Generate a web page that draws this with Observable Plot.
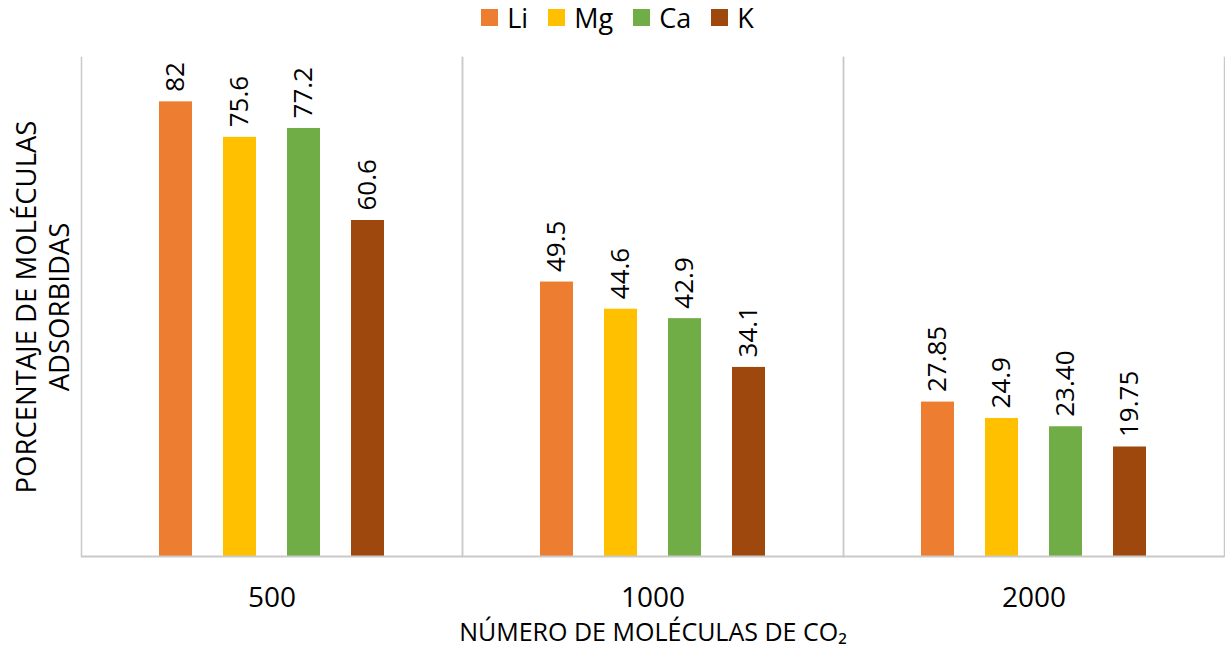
<!DOCTYPE html>
<html>
<head>
<meta charset="utf-8">
<script src="https://cdn.jsdelivr.net/npm/d3@7"></script>
<script src="https://cdn.jsdelivr.net/npm/@observablehq/plot@0.6"></script>
<style>
  html, body { margin: 0; padding: 0; background: #fff; }
  body { width: 1225px; height: 659px; overflow: hidden; font-family: "Open Sans", sans-serif; }
  #legend { height: 34px; display: flex; justify-content: center; align-items: center; padding-left: 10px; box-sizing: border-box; font-size: 27px; color: #000; }
  #legend .item { display: flex; align-items: center; margin: 0 10px; }
  #legend .sw { width: 17px; height: 17px; margin-right: 9px; }
</style>
</head>
<body>
<div id="legend"></div>
<div id="chart"></div>
<script>
// Number of CO2 molecules in the simulation box
const groups = ["500", "1000", "2000"];
// Cations
const elements = ["Li", "Mg", "Ca", "K"];
const colors = ["#ED7D31", "#FFC000", "#70AD47", "#9E480E"];
// Percentage of adsorbed molecules, written as printed on each bar
const liValues = ["82", "49.5", "27.85"];
const mgValues = ["75.6", "44.6", "24.9"];
const caValues = ["77.2", "42.9", "23.40"];
const kValues  = ["60.6", "34.1", "19.75"];

const yTitle = "PORCENTAJE DE MOLÉCULAS\nADSORBIDAS";
const xTitle = "NÚMERO DE MOLÉCULAS DE CO₂";

const series = [liValues, mgValues, caValues, kValues];
const rows = [];
groups.forEach((g, i) => {
  elements.forEach((e, j) => {
    rows.push({group: g, element: e, label: series[j][i], value: +series[j][i]});
  });
});

// legend
const legend = document.getElementById("legend");
elements.forEach((e, j) => {
  const item = document.createElement("div");
  item.className = "item";
  const sw = document.createElement("div");
  sw.className = "sw";
  sw.style.background = colors[j];
  const t = document.createElement("span");
  t.textContent = e;
  item.append(sw, t);
  legend.append(item);
});

const grid = "#c9c9c9";

const chart = Plot.plot({
  width: 1225,
  height: 625,
  marginTop: 23,
  marginBottom: 103,
  marginLeft: 81,
  marginRight: 1,
  style: {fontFamily: "Open Sans, sans-serif", color: "#000", background: "#fff"},
  fx: {domain: groups, padding: 0},
  x: {domain: elements, paddingInner: 0.477, paddingOuter: 1.175, axis: null},
  y: {domain: [0, 90], axis: null},
  color: {domain: elements, range: colors},
  marks: [
    Plot.frame({anchor: "left", stroke: grid, strokeWidth: 1.5}),
    Plot.frame({anchor: "right", stroke: grid, strokeWidth: 1.5}),
    Plot.barY(rows, {fx: "group", x: "element", y: "value", fill: "element"}),
    Plot.ruleY([0], {stroke: grid, strokeWidth: 2}),
    // value labels, rotated above each bar
    Plot.text(rows, {
      fx: "group", x: "element", y: "value", text: "label",
      rotate: -90, textAnchor: "start", lineAnchor: "middle",
      dy: -10, fontSize: 26, fill: "#000"
    }),
    // y title, drawn once beside the first group
    Plot.text([yTitle], {
      fx: () => groups[0], frameAnchor: "left", text: d => d,
      rotate: -90, textAnchor: "middle", lineAnchor: "middle",
      lineHeight: 1.2, dx: -40, fontSize: 27.5, fill: "#000"
    }),
    Plot.axisFx({anchor: "bottom", tickSize: 0, tickPadding: 31, fontSize: 28, label: null}),
    Plot.text([xTitle], {
      fx: () => groups[1], frameAnchor: "bottom", text: d => d,
      lineAnchor: "bottom", dy: 84, fontSize: 25, fill: "#000"
    })
  ]
});
document.getElementById("chart").append(chart);
</script>
</body>
</html>
